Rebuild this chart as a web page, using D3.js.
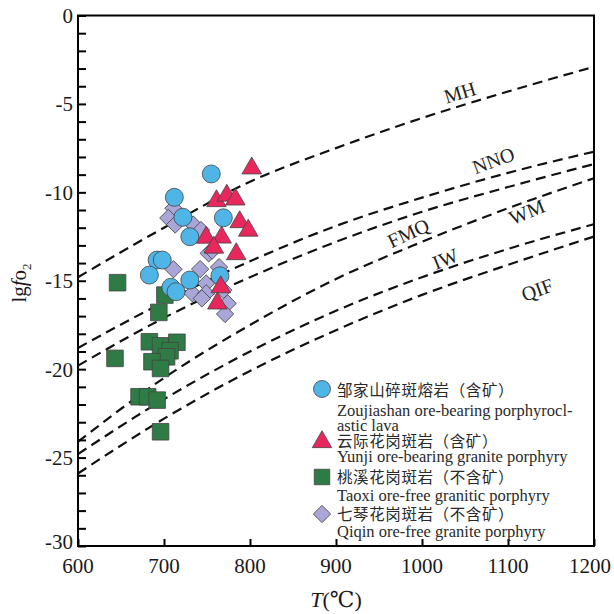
<!DOCTYPE html>
<meta charset="utf-8">
<style>
  body { margin: 0; background: #fff; }
  svg { font-family: "Liberation Serif", "Times New Roman", "DejaVu Serif", serif; }
  .axis path, .axis line { fill: none; stroke: #000; stroke-width: 2px; }
  .buffer { fill: none; stroke: #111; stroke-width: 2.2px; stroke-dasharray: 10,6; }
  .buffer-label { font-size: 20px; fill: #222; }
  .tick-label { font-size: 21px; fill: #1a1a1a; }
  .mark { stroke: #444; stroke-width: 0.8px; }
  .legend text { font-size: 16.5px; fill: #2a2a2a; }
  .legend .cn { font-family: "Noto Sans CJK SC", sans-serif; font-size: 15.5px; letter-spacing: 0.6px; }
</style>
<body>
<script src="https://d3js.org/d3.v7.min.js"></script>
<script>

  // buffer curves (T in C, lg fO2)
  var bufferT = [600, 700, 800, 900, 1000, 1100, 1200];
  var mhVals  = [-14.8, -12.0, -9.4, -7.5, -5.8, -4.3, -2.9];
  var nnoVals = [-18.8, -16.2, -13.9, -11.9, -10.3, -8.9, -7.7];
  var fmqVals = [-19.8, -17.1, -14.8, -12.8, -11.1, -9.7, -8.4];
  var wmVals  = [-24.1, -20.5, -17.5, -14.9, -12.8, -10.9, -9.2];
  var iwVals  = [-24.8, -21.7, -19.0, -16.7, -14.8, -13.2, -11.8];
  var qifVals = [-25.9, -22.8, -20.1, -17.8, -15.8, -14.1, -12.5];

  var bufferNames = ["MH", "NNO", "FMQ", "WM", "IW", "QIF"];
  // label anchor [T, lgfO2, rotation]
  var bufferLabels = [[1044, -4.35, -17], [1083, -8.2, -20], [984, -12.3, -25],
                      [1122, -11.1, -22], [1027, -13.75, -22], [1134, -15.5, -20]];

  // samples [T, lgfO2]
  var zoujiashan = [[755, -8.96], [712, -10.28], [722, -11.41], [769, -11.44], [730, -12.51],
                    [692, -13.83], [698, -13.83], [683, -14.68], [730, -14.96], [765, -14.72],
                    [708, -15.37], [714, -15.62]];
  var yunji = [[802, -8.64], [761, -10.49], [773, -10.18], [783, -10.40], [788, -11.68],
               [798, -12.16], [749, -12.56], [767, -12.55], [758, -13.12], [784, -13.49],
               [766, -15.36], [762, -16.28]];
  var taoxi = [[646, -15.11], [701, -15.81], [694, -16.79], [683, -18.45], [696, -18.68],
               [715, -18.48], [707, -18.96], [703, -19.30], [686, -19.58], [696, -19.96],
               [643, -19.39], [671, -21.56], [681, -21.56], [692, -21.75], [696, -23.54]];
  var qiqin = [[711, -10.9], [705, -11.45], [713, -11.82], [734, -11.82], [743, -12.13],
               [752, -13.45], [756, -13.29], [711, -14.35], [742, -14.34], [764, -14.23],
               [749, -15.15], [733, -15.71], [749, -15.71], [744, -16.0], [769, -15.53],
               [774, -16.28], [771, -16.88]];

  var xTicks = [600, 700, 800, 900, 1000, 1100, 1200];
  var yTicks = [0, -5, -10, -15, -20, -25, -30];

  var width = 614, height = 614;
  var plot = { left: 78, right: 594, top: 15.5, bottom: 546 };

  var x = d3.scaleLinear().domain([600, 1200]).range([plot.left, plot.right]);
  var y = d3.scaleLinear().domain([-30, 0]).range([plot.bottom, plot.top]);

  var svg = d3.select("body").append("svg")
      .attr("width", width)
      .attr("height", height);

  // buffer lines
  var line = d3.line()
      .x(function(d) { return x(d[0]); })
      .y(function(d) { return y(d[1]); })
      .curve(d3.curveMonotoneX);

  var buffers = [mhVals, nnoVals, fmqVals, wmVals, iwVals, qifVals];
  buffers.forEach(function(vals, i) {
    svg.append("path")
        .attr("class", "buffer")
        .attr("d", line(bufferT.map(function(t, j) { return [t, vals[j]]; })));
    var lb = bufferLabels[i];
    svg.append("text")
        .attr("class", "buffer-label")
        .attr("text-anchor", "middle")
        .attr("dy", "0.35em")
        .attr("transform", "translate(" + x(lb[0]) + "," + y(lb[1]) + ") rotate(" + lb[2] + ")")
        .text(bufferNames[i]);
  });

  // frame
  svg.append("rect")
      .attr("x", plot.left).attr("y", plot.top)
      .attr("width", plot.right - plot.left)
      .attr("height", plot.bottom - plot.top)
      .attr("fill", "none").attr("stroke", "#000").attr("stroke-width", 2);

  // axes, ticks pointing inside
  var yAxis = svg.append("g")
      .attr("class", "axis")
      .attr("transform", "translate(" + plot.left + ",0)")
      .call(d3.axisRight(y).tickValues(d3.range(-30, 1, 1)).tickSize(8).tickFormat(""));
  yAxis.select(".domain").remove();

  yTicks.forEach(function(v) {
    svg.append("text")
        .attr("class", "tick-label")
        .attr("x", plot.left - 5)
        .attr("y", y(v))
        .attr("dy", v == -30 ? "0.15em" : "0.35em")
        .attr("text-anchor", "end")
        .text(v);
  });

  var xAxis = svg.append("g")
      .attr("class", "axis")
      .attr("transform", "translate(0," + plot.bottom + ")")
      .call(d3.axisTop(x).tickValues(xTicks).tickSize(7).tickFormat(""));
  xAxis.select(".domain").remove();

  xTicks.forEach(function(v) {
    svg.append("text")
        .attr("class", "tick-label")
        .attr("x", x(v))
        .attr("dx", v == 1200 ? -4 : 0)
        .attr("y", plot.bottom + 27)
        .attr("text-anchor", "middle")
        .text(v);
  });

  // axis titles
  var xt = svg.append("text")
      .attr("x", (plot.left + plot.right) / 2)
      .attr("y", 607)
      .attr("text-anchor", "middle")
      .style("font-size", "22px")
      .style("fill", "#1a1a1a");
  xt.append("tspan").style("font-style", "italic").text("T");
  xt.append("tspan").text("(℃)");

  var yt = svg.append("text")
      .attr("transform", "translate(26,283) rotate(-90)")
      .attr("text-anchor", "middle")
      .style("font-size", "21px")
      .style("fill", "#1a1a1a");
  yt.append("tspan").text("lg");
  yt.append("tspan").style("font-style", "italic").text("f");
  yt.append("tspan").text("o");
  yt.append("tspan").attr("dy", 5).style("font-size", "13px").text("2");

  // marks
  var colors = { circle: "#4fb4e6", triangle: "#e8285c", square: "#2e7b45", diamond: "#aba6d8" };
  var triPath = d3.symbol().type(d3.symbolTriangle).size(165)();
  var sqPath = d3.symbol().type(d3.symbolSquare).size(275)();
  var diaPath = d3.symbol().type(d3.symbolSquare).size(150)();

  svg.selectAll(".sq").data(taoxi).enter().append("path")
      .attr("class", "mark sq")
      .attr("d", sqPath)
      .attr("fill", colors.square)
      .attr("transform", function(d) { return "translate(" + x(d[0]) + "," + y(d[1]) + ")"; });

  svg.selectAll(".dia").data(qiqin).enter().append("path")
      .attr("class", "mark dia")
      .attr("d", diaPath)
      .attr("fill", colors.diamond)
      .attr("transform", function(d) { return "translate(" + x(d[0]) + "," + y(d[1]) + ") rotate(45)"; });

  svg.selectAll(".circ").data(zoujiashan).enter().append("circle")
      .attr("class", "mark circ")
      .attr("r", 9)
      .attr("fill", colors.circle)
      .attr("cx", function(d) { return x(d[0]); })
      .attr("cy", function(d) { return y(d[1]); });

  svg.selectAll(".tri").data(yunji).enter().append("path")
      .attr("class", "mark tri")
      .attr("d", triPath)
      .attr("fill", colors.triangle)
      .attr("transform", function(d) { return "translate(" + x(d[0]) + "," + y(d[1]) + ")"; });

  // legend
  var legend = svg.append("g").attr("class", "legend");

  legend.append("circle").attr("class", "mark").attr("cx", 322).attr("cy", 389).attr("r", 8.5).attr("fill", colors.circle);
  legend.append("path").attr("class", "mark").attr("d", triPath).attr("fill", colors.triangle).attr("transform", "translate(322,442)");
  legend.append("path").attr("class", "mark").attr("d", d3.symbol().type(d3.symbolSquare).size(240)()).attr("fill", colors.square).attr("transform", "translate(322,477)");
  legend.append("path").attr("class", "mark").attr("d", diaPath).attr("fill", colors.diamond).attr("transform", "translate(322,514) rotate(45)");

  var legendLines = [
    ["cn", 396, "邹家山碎斑熔岩（含矿）"],
    ["en", 416, "Zoujiashan ore-bearing porphyrocl-"],
    ["en", 431, "astic lava"],
    ["cn", 447, "云际花岗斑岩（含矿）"],
    ["en", 462, "Yunji ore-bearing granite porphyry"],
    ["cn", 483, "桃溪花岗斑岩（不含矿）"],
    ["en", 501, "Taoxi ore-free granitic porphyry"],
    ["cn", 520, "七琴花岗斑岩（不含矿）"],
    ["en", 537, "Qiqin ore-free granite porphyry"]
  ];
  legendLines.forEach(function(l) {
    legend.append("text")
        .attr("class", l[0])
        .attr("x", 337)
        .attr("y", l[1])
        .text(l[2]);
  });

</script>
